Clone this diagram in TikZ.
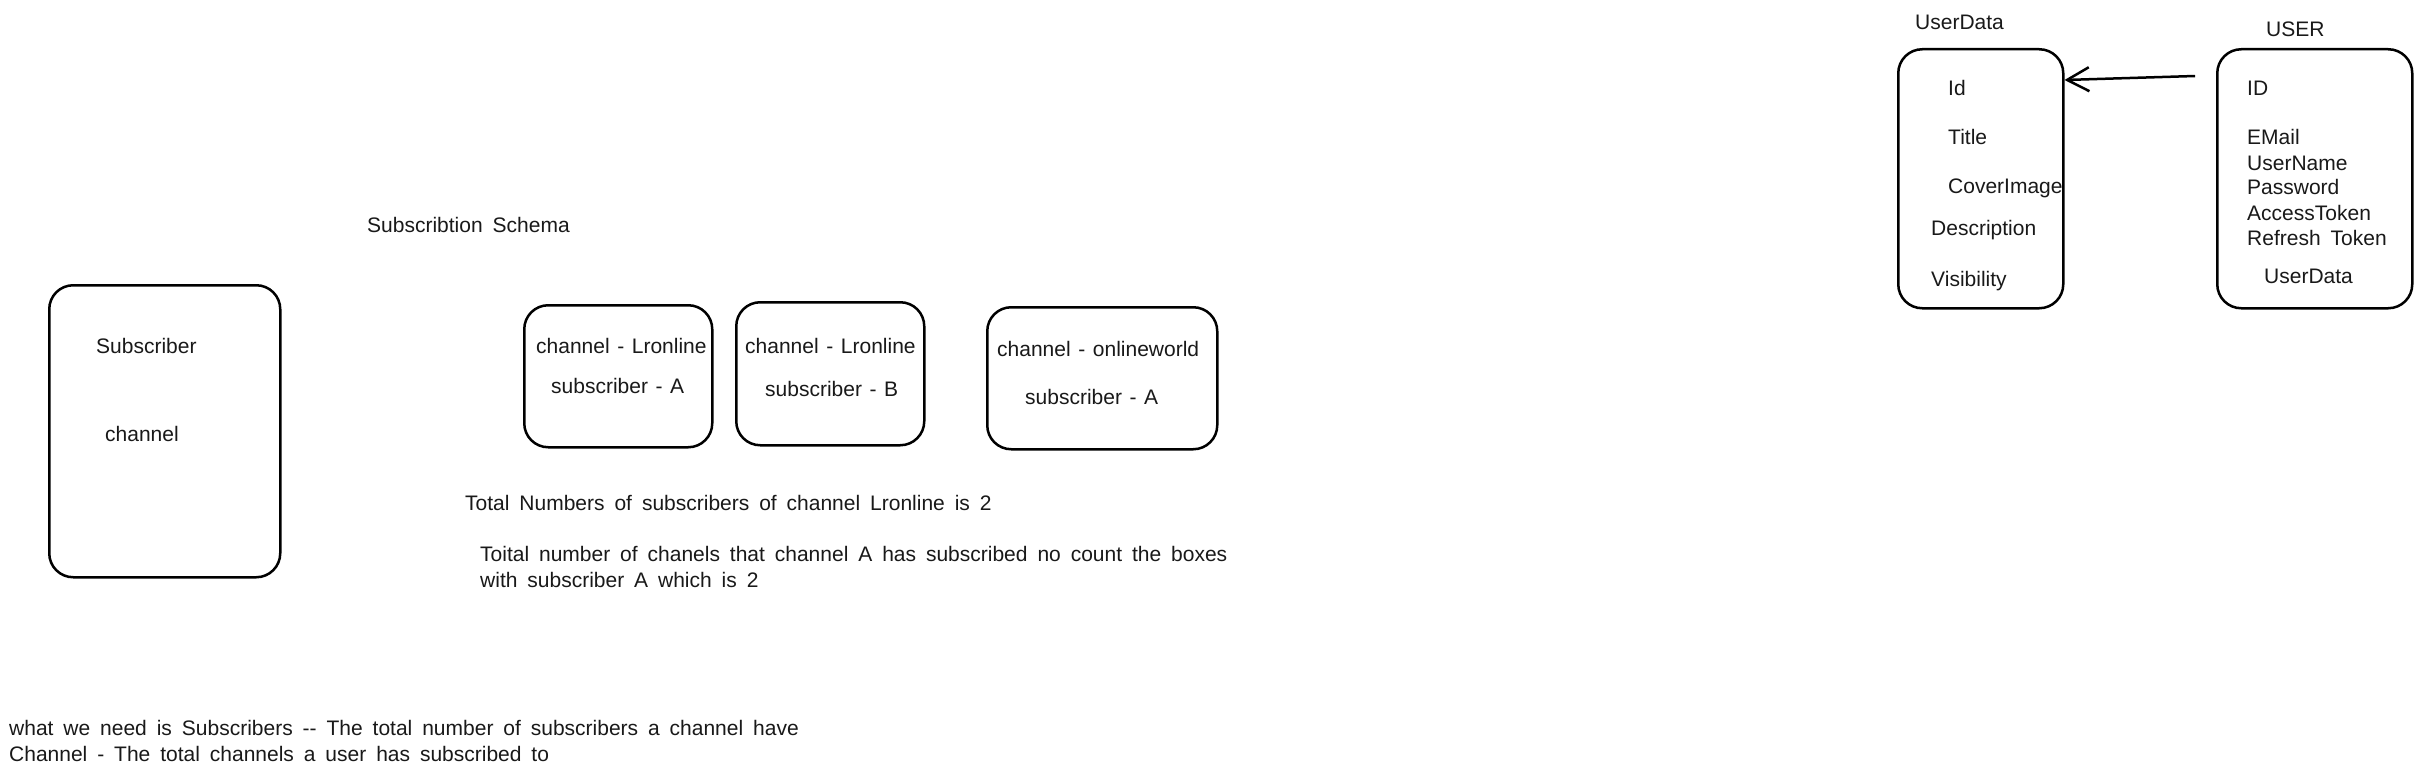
\documentclass[tikz,border=0pt]{standalone}
\usepackage{fontspec}
\setmainfont[WordSpace=1.7]{Liberation Sans}
\newfontfamily\inboxfont[WordSpace=1.3]{Liberation Sans}
\usetikzlibrary{arrows.meta,calc}
\tikzset{
  sbox/.style={draw=black, line width=2.5pt, rounded corners=24pt, anchor=north west, inner sep=0pt},
  lbl/.style={anchor=west, inner sep=0pt, font=\fontsize{21}{26}\selectfont, text=black!90, align=left},
  blbl/.style={lbl, font=\inboxfont\fontsize{21}{26}\selectfont},
  conn/.style={draw=black, line width=2.5pt, -{Straight Barb[length=22pt,width=24pt,line width=2.5pt]}}
}
\begin{document}
\begin{tikzpicture}[x=1pt,y=-1pt]
\useasboundingbox[fill=white] (0,0) rectangle (2420,776);
% boxes
\node[sbox, minimum width=231pt, minimum height=292pt] (sub) at (48,284) {};
\node[sbox, minimum width=188pt, minimum height=142pt] (b1) at (523,304) {};
\node[sbox, minimum width=188pt, minimum height=143pt] (b2) at (735,301) {};
\node[sbox, minimum width=230pt, minimum height=142pt] (b3) at (986,306) {};
\node[sbox, minimum width=165pt, minimum height=259pt] (ud) at (1897,48) {};
\node[sbox, minimum width=195pt, minimum height=259pt] (usr) at (2216,48) {};
% left texts
\node[lbl] (tsub) at (96,346) {Subscriber};
\node[lbl] (tch) at (105,434) {channel};
\node[lbl] (title) at (367,225) {Subscribtion Schema};
\node[blbl] (b1a) at (536,346) {channel - Lronline};
\node[blbl] (b1b) at (551,386) {subscriber - A};
\node[blbl] (b2a) at (745,346) {channel - Lronline};
\node[blbl] (b2b) at (765,389) {subscriber - B};
\node[blbl] (b3a) at (997,349) {channel - onlineworld};
\node[blbl] (b3b) at (1025,397) {subscriber - A};
\node[lbl] (n1) at (465,503) {Total Numbers of subscribers of channel Lronline is 2};
\node[lbl] (n2) at (480,567) {Toital number of chanels that channel A has subscribed no count the boxes\\with subscriber A which is 2};
\node[lbl] (n3) at (9,741) {what we need is Subscribers -{}- The total number of subscribers a channel have\\Channel - The total channels a user has subscribed to};
% right texts
\node[lbl] (udl) at (1915,22) {UserData};
\node[lbl] (usrl) at (2266,29) {USER};
\node[lbl] (u1) at (1948,88) {Id};
\node[lbl] (u2) at (1948,137) {Title};
\node[lbl] (u3) at (1948,188) {CoverImage};
\node[lbl] (u4) at (1931,230) {Description};
\node[lbl] (u5) at (1931,281) {Visibility};
\node[lbl] (s1) at (2247,88) {ID};
\node[lbl] (s2) at (2247,137) {EMail};
\node[lbl] (s3) at (2247,163) {UserName};
\node[lbl] (s4) at (2247,187) {Password};
\node[lbl] (s5) at (2247,213) {AccessToken};
\node[lbl] (s6) at (2247,238) {Refresh Token};
\node[lbl] (s7) at (2264,276) {UserData};
% arrow
\coordinate (astart) at (2195,76);
\coordinate (aend) at ($(ud.north east)+(0,32)$);
\draw[conn] (astart) -- (aend);
\end{tikzpicture}
\end{document}
